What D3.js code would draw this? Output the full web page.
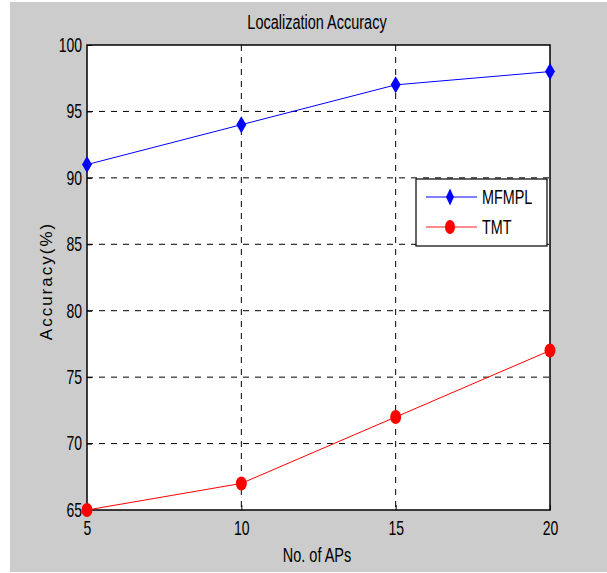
<!DOCTYPE html>
<html>
<head>
<meta charset="utf-8">
<script src="https://cdn.jsdelivr.net/npm/d3@7"></script>
<style>
  body { margin: 0; background: #fff; }
  svg { display: block; font-family: "Liberation Sans", Arial, sans-serif; }
</style>
</head>
<body>
<div id="container"></div>
<script>
// Chart data
const apCounts = [5, 10, 15, 20];
const mfmplAcc = [91, 94, 97, 98];
const tmtAcc = [65, 67, 72, 77];
const xTicks = [5, 10, 15, 20];
const yTicks = [65, 70, 75, 80, 85, 90, 95, 100];
const seriesNames = ["MFMPL", "TMT"];

const W = 607, H = 573;
const margin = { top: 45, right: 57, bottom: 63, left: 87 };
const width = W - margin.left - margin.right;
const height = H - margin.top - margin.bottom;

// text in the reference is tall and narrow
const SQUEEZE = 0.7;

const svg = d3.select("#container").append("svg")
    .attr("width", W)
    .attr("height", H);

// grey figure background
svg.append("rect")
    .attr("x", 10).attr("y", 2)
    .attr("width", W - 10).attr("height", 570)
    .attr("fill", "#cccccc");

const g = svg.append("g")
    .attr("transform", "translate(" + margin.left + "," + margin.top + ")");

var x = d3.scaleLinear().domain([5, 20]).range([0, width]);
var y = d3.scaleLinear().domain([65, 100]).range([height, 0]);

// plot area
g.append("rect")
    .attr("width", width).attr("height", height)
    .attr("fill", "#fff");

// dashed grid
g.append("g").selectAll("line")
    .data(xTicks.slice(1, -1))
    .join("line")
    .attr("x1", d => x(d)).attr("x2", d => x(d))
    .attr("y1", 0).attr("y2", height)
    .attr("stroke", "#000").attr("stroke-width", 1)
    .attr("stroke-dasharray", "6,6");

g.append("g").selectAll("line")
    .data(yTicks.slice(1, -1))
    .join("line")
    .attr("x1", 0).attr("x2", width)
    .attr("y1", d => y(d)).attr("y2", d => y(d))
    .attr("stroke", "#000").attr("stroke-width", 1)
    .attr("stroke-dasharray", "6,6");

// axes (ticks pointing inward, MATLAB style)
const xAxis = g.append("g")
    .attr("transform", "translate(0," + height + ")")
    .call(d3.axisBottom(x).tickValues(xTicks).tickSizeInner(-5).tickSizeOuter(0).tickPadding(11));
const yAxis = g.append("g")
    .call(d3.axisLeft(y).tickValues(yTicks).tickSizeInner(-5).tickSizeOuter(0).tickPadding(7));
[xAxis, yAxis].forEach(a => {
    a.select(".domain").remove();
    a.selectAll("text")
        .attr("fill", "#000")
        .style("font-size", "20px")
        .attr("transform", "scale(" + SQUEEZE + ",1)");
    a.selectAll("line").attr("stroke", "#000");
});

// box
g.append("rect")
    .attr("width", width).attr("height", height)
    .attr("fill", "none").attr("stroke", "#000").attr("stroke-width", 1.5);

// lines
const line = d3.line().x(d => x(d[0])).y(d => y(d[1]));
const mfmplData = apCounts.map((a, i) => [a, mfmplAcc[i]]);
const tmtData = apCounts.map((a, i) => [a, tmtAcc[i]]);

g.append("path").datum(mfmplData)
    .attr("fill", "none").attr("stroke", "#0000ff").attr("stroke-width", 1)
    .attr("d", line);
g.append("path").datum(tmtData)
    .attr("fill", "none").attr("stroke", "#ff0000").attr("stroke-width", 1)
    .attr("d", line);

function diamond(sel, cx, cy, w, h) {
    sel.append("path")
        .attr("d", "M" + cx + "," + (cy - h / 2) + "L" + (cx + w / 2) + "," + cy +
            "L" + cx + "," + (cy + h / 2) + "L" + (cx - w / 2) + "," + cy + "Z")
        .attr("fill", "#0000ff");
}

mfmplData.forEach(d => diamond(g, x(d[0]), y(d[1]), 10, 17));
g.selectAll(".tmt-pt").data(tmtData).join("ellipse")
    .attr("class", "tmt-pt")
    .attr("cx", d => x(d[0])).attr("cy", d => y(d[1]))
    .attr("rx", 5.5).attr("ry", 7)
    .attr("fill", "#ff0000");

// squeezed text helper
function label(parent, tx, ty, txt, size, anchor, sx) {
    return parent.append("text")
        .attr("transform", "translate(" + tx + "," + ty + ") scale(" + sx + ",1)")
        .attr("text-anchor", anchor)
        .style("font-size", size + "px")
        .text(txt);
}

// legend
const leg = svg.append("g").attr("transform", "translate(416,179)");
leg.append("rect")
    .attr("width", 131).attr("height", 67)
    .attr("fill", "#fff").attr("stroke", "#000").attr("stroke-width", 1.2);
leg.append("line").attr("x1", 10).attr("x2", 61).attr("y1", 18).attr("y2", 18)
    .attr("stroke", "#0000ff");
diamond(leg, 34, 18, 8, 17);
leg.append("line").attr("x1", 10).attr("x2", 61).attr("y1", 48).attr("y2", 48)
    .attr("stroke", "#ff6666").attr("stroke-width", 1.5);
leg.append("ellipse").attr("cx", 34).attr("cy", 48).attr("rx", 5).attr("ry", 7)
    .attr("fill", "#ff0000");
seriesNames.forEach((nm, i) => label(leg, 66, 25 + i * 30, nm, 20, "start", 0.72));

// title
label(svg, 317, 29, "Localization Accuracy", 21, "middle", 0.69);

// x label
label(svg, 317, 562, "No. of APs", 21, "middle", 0.69);

// y label
svg.append("text")
    .attr("transform", "translate(52,281) rotate(-90)")
    .attr("text-anchor", "middle")
    .style("font-size", "17px")
    .style("letter-spacing", "2px")
    .text("Accuracy(%)");
</script>
</body>
</html>
